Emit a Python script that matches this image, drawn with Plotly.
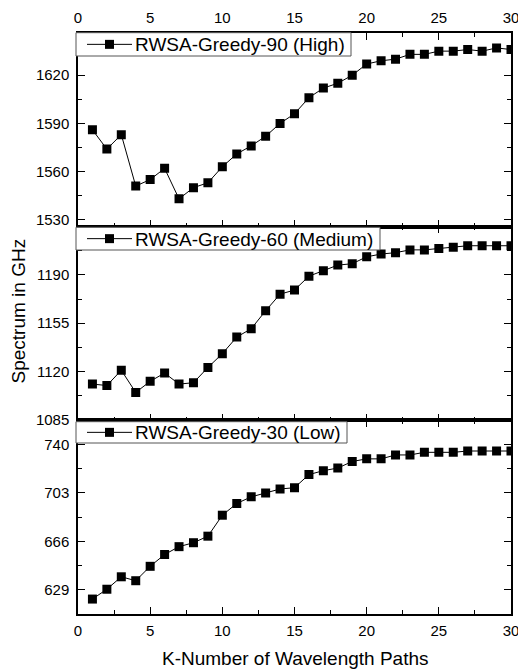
import plotly.graph_objects as go

k_paths = list(range(1, 31))

high_90 = [1586, 1574, 1583, 1551, 1555, 1562, 1543, 1550, 1553, 1563,
           1571, 1576, 1582, 1590, 1596, 1606, 1612, 1615, 1620, 1627,
           1629, 1630, 1633, 1633, 1635, 1635, 1636, 1635, 1637, 1636]

medium_60 = [1111, 1110, 1121, 1105, 1113, 1119, 1111, 1112, 1123, 1133,
             1145, 1151, 1164, 1176, 1179, 1189, 1193, 1197, 1198, 1203,
             1205, 1206, 1208, 1208, 1209, 1210, 1211, 1211, 1211, 1211]

low_30 = [622, 629.5, 639, 636, 647, 656, 662, 665, 670, 686,
          695, 700, 703, 706, 707, 717, 720, 722, 727, 729,
          729, 732, 732, 734, 734, 734, 735, 735, 735, 735]

names = ["RWSA-Greedy-90 (High)", "RWSA-Greedy-60 (Medium)", "RWSA-Greedy-30 (Low)"]

x_ticks = [0, 5, 10, 15, 20, 25, 30]

FONT = "Liberation Sans, Arial, sans-serif"
W, H = 518, 670
ML, MR, MT, MB = 78, 7, 33, 56
PW, PH = W - ML - MR, H - MT - MB


def px_x(p):
    return (p - ML) / PW


def px_y(p):
    return (H - MB - p) / PH


fig = go.Figure()
series = [high_90, medium_60, low_30]
for i, (vals, nm) in enumerate(zip(series, names)):
    sfx = "" if i == 0 else str(i + 1)
    fig.add_trace(go.Scatter(
        x=k_paths, y=vals, name=nm, mode="lines+markers",
        line=dict(color="black", width=1),
        marker=dict(symbol="square", size=9, color="black"),
        xaxis="x" + sfx, yaxis="y" + sfx, showlegend=False,
    ))

axis_common = dict(
    showline=True, linecolor="black", linewidth=1.5, mirror="allticks",
    ticks="inside", ticklen=7, tickwidth=1.2, tickcolor="black",
    showgrid=False, zeroline=False, automargin=False,
    tickfont=dict(family=FONT, size=15, color="black"),
)

xa = dict(axis_common, range=[0, 30], tickvals=x_ticks, ticklabeloverflow="allow",
          minor=dict(dtick=2.5, tick0=0, ticks="inside", ticklen=4, tickwidth=1.2, tickcolor="black"))

fig.update_layout(
    xaxis=dict(xa, anchor="y", side="top", showticklabels=True, ticklabelstandoff=2),
    xaxis2=dict(xa, anchor="y2", matches="x", showticklabels=False),
    xaxis3=dict(xa, anchor="y3", matches="x", showticklabels=True, ticklabelstandoff=2),
    yaxis=dict(axis_common, domain=[0.6667, 1], range=[1525.7, 1646.3],
               tick0=1530, dtick=30, anchor="x", ticklabelstandoff=4,
               minor=dict(dtick=15, tick0=1530, ticks="inside", ticklen=4, tickwidth=1.2, tickcolor="black")),
    yaxis2=dict(axis_common, domain=[0.3333, 0.6667], range=[1084.8, 1224.8],
                tick0=1085, dtick=35, anchor="x2", ticklabelstandoff=4,
                minor=dict(dtick=17.5, tick0=1085, ticks="inside", ticklen=4, tickwidth=1.2, tickcolor="black")),
    yaxis3=dict(axis_common, domain=[0, 0.3333], range=[610.6, 758.4],
                tick0=629, dtick=37, anchor="x3", ticklabelstandoff=4,
                minor=dict(dtick=18.5, tick0=629, ticks="inside", ticklen=4, tickwidth=1.2, tickcolor="black")),
    width=W, height=H,
    margin=dict(l=ML, r=MR, t=MT, b=MB, autoexpand=False),
    paper_bgcolor="white", plot_bgcolor="white",
    font=dict(family=FONT, color="black"),
    showlegend=False,
)

# legend boxes (drawn as boxed labels, one per panel)
legend_boxes = [  # (left, right, top, bottom) in pixels
    (76, 351, 32.7, 56),
    (76, 380, 227.3, 250),
    (76, 347, 421.7, 443),
]
for nm, (l, r, t, b) in zip(names, legend_boxes):
    cy = (t + b) / 2
    fig.add_shape(type="rect", xref="paper", yref="paper",
                  x0=px_x(l), x1=px_x(r), y0=px_y(b), y1=px_y(t),
                  fillcolor="white", line=dict(color="#555", width=1), layer="above")
    fig.add_shape(type="line", xref="paper", yref="paper",
                  x0=px_x(87), x1=px_x(132), y0=px_y(cy), y1=px_y(cy),
                  line=dict(color="black", width=1), layer="above")
    fig.add_shape(type="rect", xref="paper", yref="paper",
                  x0=px_x(105), x1=px_x(114), y0=px_y(cy + 4.5), y1=px_y(cy - 4.5),
                  fillcolor="black", line=dict(color="black", width=0), layer="above")
    fig.add_annotation(text=nm, xref="paper", yref="paper",
                       x=px_x(134), y=px_y(cy + 0.5), xanchor="left", yanchor="middle",
                       showarrow=False, borderpad=0,
                       font=dict(family=FONT, size=19, color="black"))

fig.add_annotation(text="Spectrum in GHz", xref="paper", yref="paper",
                   x=px_x(18), y=px_y(311.5), xanchor="center", yanchor="middle",
                   textangle=-90, showarrow=False,
                   font=dict(family=FONT, size=19, color="black"))
fig.add_annotation(text="K-Number of Wavelength Paths", xref="paper", yref="paper",
                   x=0.5, y=px_y(658), xanchor="center", yanchor="middle",
                   showarrow=False,
                   font=dict(family=FONT, size=19, color="black"))

fig.write_html("out.html")
